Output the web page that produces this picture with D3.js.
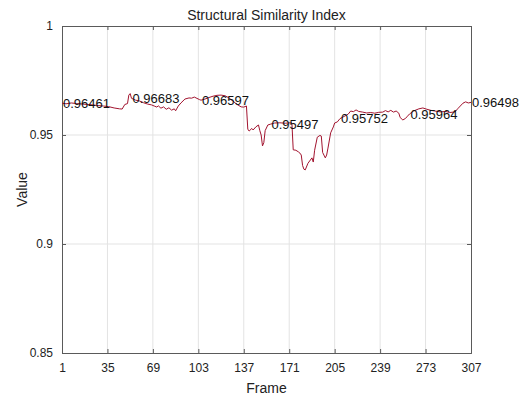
<!DOCTYPE html>
<html>
<head>
<meta charset="utf-8">
<script src="https://cdn.jsdelivr.net/npm/d3@7"></script>
<style>
  body { margin: 0; background: #fff; }
  svg { display: block; font-family: "Liberation Sans", Arial, sans-serif; }
</style>
</head>
<body>
<div id="chart"></div>
<script>
// Frame numbers and SSIM values
const frames = [1, 4, 8, 12, 16, 20, 24, 28, 32, 36, 40, 44, 46, 48, 50, 51, 52, 53,
    56, 59, 62, 65, 68, 70, 72, 73, 75, 77, 79, 81, 83, 85, 86, 88, 90, 93, 96, 98, 100,
    102, 104, 105, 108, 111, 114, 117, 120, 123, 126, 129, 132, 135, 137, 139, 140, 141,
    143, 144, 146, 148, 149, 150, 151, 152, 153, 155, 157, 160, 164, 168, 172, 173, 174,
    176, 178, 179, 180, 181, 182, 183, 185, 188, 189, 190, 192, 194, 195, 196, 198, 199,
    200, 202, 204, 205, 207, 209, 212, 215, 217, 219, 221, 223, 226, 229, 232, 235, 238,
    241, 243, 245, 247, 249, 251, 253, 254, 256, 258, 259, 261, 264, 268, 271, 274, 277,
    280, 284, 288, 291, 295, 297, 299, 301, 303, 305, 307];
const ssim = [0.96461, 0.96430, 0.96470, 0.96440, 0.96420, 0.96400, 0.96380, 0.96350,
    0.96330, 0.96300, 0.96240, 0.96200, 0.96190, 0.96400, 0.96440, 0.96830, 0.96900, 0.96683,
    0.96600, 0.96560, 0.96480, 0.96420, 0.96380, 0.96330, 0.96280, 0.96340, 0.96230, 0.96290,
    0.96180, 0.96250, 0.96140, 0.96200, 0.96110, 0.96330, 0.96470, 0.96650, 0.96700, 0.96690,
    0.96740, 0.96680, 0.96620, 0.96597, 0.96650, 0.96720, 0.96780, 0.96820, 0.96830, 0.96800,
    0.96700, 0.96550, 0.96400, 0.96290, 0.96280, 0.96330, 0.95270, 0.95180, 0.95300, 0.95230,
    0.95370, 0.95460, 0.95200, 0.95000, 0.94500, 0.94650, 0.95200, 0.95460, 0.95497, 0.95550,
    0.95560, 0.95540, 0.95560, 0.95550, 0.94320, 0.94300, 0.94220, 0.94170, 0.94080, 0.93600,
    0.93430, 0.93400, 0.93700, 0.93950, 0.93760, 0.94300, 0.94900, 0.94980, 0.94950, 0.94200,
    0.93950, 0.94080, 0.94400, 0.95100, 0.95370, 0.95550, 0.95600, 0.95752, 0.95850, 0.95950,
    0.96100, 0.96070, 0.96150, 0.96080, 0.96050, 0.96010, 0.96030, 0.96000, 0.96040, 0.96050,
    0.96120, 0.96060, 0.96130, 0.96050, 0.96100, 0.96000, 0.95800, 0.95690, 0.95760, 0.95830,
    0.95964, 0.96100, 0.96200, 0.96240, 0.96180, 0.96130, 0.96100, 0.96060, 0.96080, 0.96030,
    0.96060, 0.96200, 0.96330, 0.96460, 0.96520, 0.96470, 0.96498];

// Frames that carry a value label
const labelFrames = [1, 53, 105, 157, 209, 261, 307];
const xTicks = [1, 35, 69, 103, 137, 171, 205, 239, 273, 307];
const yTicks = [0.85, 0.9, 0.95, 1];

const width = 530, height = 395;
const margin = { top: 26, right: 59, bottom: 42, left: 62 };

const svg = d3.select("#chart")
    .append("svg")
    .attr("width", width)
    .attr("height", height);

const x = d3.scaleLinear().domain([1, 307]).range([margin.left, width - margin.right]);
const y = d3.scaleLinear().domain([0.85, 1]).range([height - margin.bottom, margin.top]);

const data = frames.map((f, i) => ({ frame: f, value: ssim[i] }));

// Grid
svg.append("g")
    .selectAll("line")
    .data(xTicks.slice(1, -1))
    .join("line")
    .attr("x1", d => x(d)).attr("x2", d => x(d))
    .attr("y1", y(1)).attr("y2", y(0.85))
    .attr("stroke", "#e3e3e3");
svg.append("g")
    .selectAll("line")
    .data(yTicks.slice(1, -1))
    .join("line")
    .attr("x1", x(1)).attr("x2", x(307))
    .attr("y1", d => y(d)).attr("y2", d => y(d))
    .attr("stroke", "#e3e3e3");

// Axes with inward ticks, MATLAB style
const tickColor = "#5a5a5a";
const xAxis = svg.append("g")
    .attr("transform", `translate(0,${y(0.85)})`)
    .call(d3.axisBottom(x).tickValues(xTicks).tickSize(-4).tickPadding(10).tickFormat(d3.format("d")));
const xAxisTop = svg.append("g")
    .attr("transform", `translate(0,${y(1)})`)
    .call(d3.axisTop(x).tickValues(xTicks).tickSize(-4).tickFormat(""));
const yAxis = svg.append("g")
    .attr("transform", `translate(${x(1)},0)`)
    .call(d3.axisLeft(y).tickValues(yTicks).tickSize(-4).tickPadding(9).tickFormat(d3.format("")));
const yAxisRight = svg.append("g")
    .attr("transform", `translate(${x(307)},0)`)
    .call(d3.axisRight(y).tickValues(yTicks).tickSize(-4).tickFormat(""));

[xAxis, xAxisTop, yAxis, yAxisRight].forEach(g => {
    g.select(".domain").attr("stroke", tickColor);
    g.selectAll(".tick line").attr("stroke", tickColor);
    g.selectAll("text").attr("fill", "#222").style("font-size", "12px")
        .style("font-family", "'Liberation Sans', Arial, sans-serif");
});

// Line
svg.append("path")
    .datum(data)
    .attr("fill", "none")
    .attr("stroke", "#a2142f")
    .attr("stroke-width", 1)
    .attr("d", d3.line().x(d => x(d.frame)).y(d => y(d.value)));

// Value labels
svg.append("g")
    .selectAll("text")
    .data(data.filter(d => labelFrames.includes(d.frame)))
    .join("text")
    .attr("x", d => x(d.frame) + 1)
    .attr("y", d => y(d.value))
    .attr("dy", "0.35em")
    .style("font-size", "13px")
    .attr("fill", "#111")
    .text(d => d.value.toFixed(5));

// Title and axis labels
svg.append("text")
    .attr("x", (x(1) + x(307)) / 2)
    .attr("y", 20)
    .attr("text-anchor", "middle")
    .style("font-size", "14px")
    .attr("fill", "#222")
    .text("Structural Similarity Index");

svg.append("text")
    .attr("x", (x(1) + x(307)) / 2)
    .attr("y", 393)
    .attr("text-anchor", "middle")
    .style("font-size", "14px")
    .attr("fill", "#222")
    .text("Frame");

svg.append("text")
    .attr("transform", `translate(27,${(y(1) + y(0.85)) / 2}) rotate(-90)`)
    .attr("text-anchor", "middle")
    .style("font-size", "14px")
    .attr("fill", "#222")
    .text("Value");
</script>
</body>
</html>
